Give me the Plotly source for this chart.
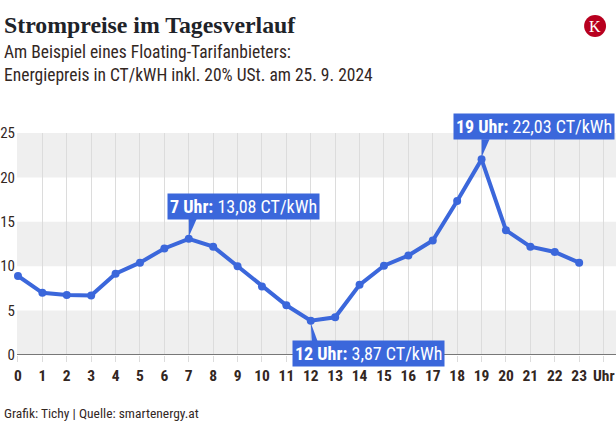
import plotly.graph_objects as go

# ---- data ----
hours = list(range(24))
hour_labels = [str(h) for h in hours]
prices = [8.9, 7.0, 6.75, 6.7, 9.15, 10.4, 12.0, 13.08, 12.2, 10.0, 7.7, 5.6,
          3.87, 4.25, 7.9, 10.05, 11.2, 12.9, 17.35, 22.03, 14.05, 12.2, 11.6, 10.4]
y_ticks = [0, 5, 10, 15, 20, 25]
callout_hours = [7, 12, 19]
title_text = "Strompreise im Tagesverlauf"
subtitle_text = "Am Beispiel eines Floating-Tarifanbieters:<br>Energiepreis in CT/kWH inkl. 20% USt. am 25. 9. 2024"
source_text = "Grafik: Tichy | Quelle: smartenergy.at"

W, H = 616, 425
ML, MR, MT, MB = 15, 0, 133, 70
PW, PH = W - ML - MR, H - MT - MB

def px_x(px):
    return (px - ML) / PW

def px_y(py):
    return (H - MB - py) / PH

BLUE = "#3b67db"
TXT = "#33271f"
COND = "Liberation Sans Narrow, Roboto Condensed, Roboto, sans-serif"

fig = go.Figure()

fig.add_trace(go.Scatter(
    x=hours, y=prices, mode="lines+markers",
    line=dict(color=BLUE, width=4),
    marker=dict(color=BLUE, size=8),
    hoverinfo="skip", showlegend=False, cliponaxis=False,
))

# alternating bands
for lo in (0, 10, 20):
    fig.add_shape(type="rect", xref="paper", yref="y", x0=0, x1=1, y0=lo, y1=lo + 5,
                  fillcolor="#efefef", line_width=0, layer="below")

# callouts
offsets = {7: dict(side="up", xs=-22), 12: dict(side="down", xs=-19), 19: dict(side="up", xs=-29)}
for h in callout_hours:
    v = prices[h]
    o = offsets[h]
    txt = f"<b>{h} Uhr:</b> {v:.2f}".replace(".", ",") + " CT/kWh"
    if o["side"] == "up":
        fig.add_annotation(x=h, y=v, xref="x", yref="y", text=txt, showarrow=False,
                           xanchor="left", yanchor="bottom", xshift=o["xs"], yshift=19,
                           bgcolor=BLUE, borderpad=2,
                           font=dict(family=COND, size=18, color="white"))
        path = "M 0 2 L 0 20 L 8 20 Z"
    else:
        fig.add_annotation(x=h, y=v, xref="x", yref="y", text=txt, showarrow=False,
                           xanchor="left", yanchor="top", xshift=o["xs"], yshift=-19,
                           bgcolor=BLUE, borderpad=2,
                           font=dict(family=COND, size=18, color="white"))
        path = "M 0 -2 L 1 -21 L 7 -21 Z"
    fig.add_shape(type="path", xref="x", yref="y", xsizemode="pixel", ysizemode="pixel",
                  xanchor=h, yanchor=v, path=path, fillcolor=BLUE, line_width=0, layer="above")

# zero line
fig.add_shape(type="line", xref="paper", yref="y", x0=0, x1=1, y0=0, y1=0,
              line=dict(color="#777777", width=2), layer="above")

# title, subtitle, footer
fig.add_annotation(xref="paper", yref="paper", x=px_x(0), y=px_y(10), xanchor="left", yanchor="top",
                   text=f"<b>{title_text}</b>", showarrow=False,
                   font=dict(family="Liberation Serif, DejaVu Serif, serif", size=23.8, color="#1e2329"))
fig.add_annotation(xref="paper", yref="paper", x=px_x(0), y=px_y(40), xanchor="left", yanchor="top",
                   text=subtitle_text, showarrow=False, align="left",
                   font=dict(family=COND, size=17.5, color=TXT))
fig.add_annotation(xref="paper", yref="paper", x=px_x(0), y=px_y(403), xanchor="left", yanchor="top",
                   text=source_text, showarrow=False,
                   font=dict(family=COND, size=13.5, color=TXT))
fig.add_annotation(xref="paper", yref="paper", x=px_x(617), y=px_y(376), xanchor="right", yanchor="middle",
                   text="<b>Uhr</b>", showarrow=False,
                   font=dict(family=COND, size=15.5, color=TXT))

# logo
fig.add_shape(type="circle", xref="paper", yref="paper",
              x0=px_x(584), x1=px_x(606), y0=px_y(37), y1=px_y(15),
              fillcolor="#b8001f", line_width=0)
fig.add_annotation(xref="paper", yref="paper", x=px_x(595), y=px_y(26.5), xanchor="center", yanchor="middle",
                   text="K", showarrow=False,
                   font=dict(family="Liberation Serif, DejaVu Serif, serif", size=16, color="white"))

fig.update_layout(
    width=W, height=H,
    margin=dict(l=ML, r=MR, t=MT, b=MB, pad=0),
    paper_bgcolor="white", plot_bgcolor="white",
    xaxis=dict(range=[-0.04, 24.51], tickvals=hours + [24], ticktext=hour_labels + [""],
               showgrid=True, gridcolor="#dcdcdc", gridwidth=1,
               ticks="outside", ticklen=6, tickcolor="#dcdcdc",
               tickfont=dict(family=COND, size=15.5, color=TXT, weight="bold"),
               zeroline=False, showline=False, fixedrange=True),
    yaxis=dict(range=[0, 25], tickvals=y_ticks, showgrid=False, zeroline=False,
               ticks="", ticklabelstandoff=1,
               tickfont=dict(family=COND, size=15, color=TXT), fixedrange=True),
)

fig.write_html("out.html", config={"displayModeBar": False},
               post_script="document.body.style.margin='0';document.body.style.overflow='hidden';")
